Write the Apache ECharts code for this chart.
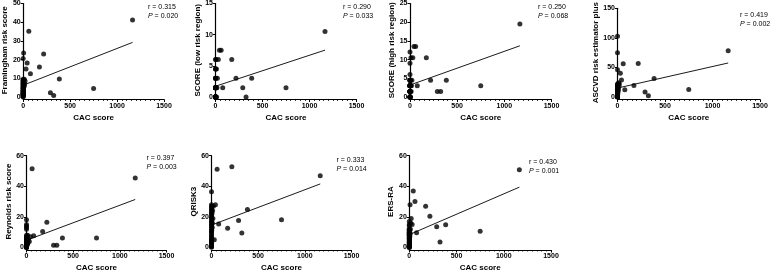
<!DOCTYPE html>
<html>
<head>
<meta charset="utf-8">
<script src="https://cdn.jsdelivr.net/npm/echarts@6/dist/echarts.min.js"></script>
<style>
  html, body { margin: 0; padding: 0; background: #fff; }
  #chart { width: 778px; height: 273px; }
</style>
</head>
<body>
<div id="chart"></div>
<script>
// CAC score per patient (same x for every panel)
const cac = [1165, 750, 385, 325, 290, 218, 173, 77, 60, 42, 30,
  20, 15, 12, 10, 8, 5, 3, 2,
  0, 0, 0, 0, 0, 0, 0, 0, 0, 0, 0, 0, 0, 0, 0, 0, 0, 0,
  0, 0, 0, 0, 0, 0, 0, 0, 0, 0, 0, 0, 0, 0, 0, 0, 0]

const framingham = [41.2, 4.6, 9.6, 0.8, 2.3, 23, 16, 12.5, 35.2, 18.2, 15,
  8.5, 7, 9.5, 6, 5.5, 23.5, 4, 3,
  20.6, 9, 8, 7.5, 7, 6.5, 6, 5.5, 5, 4.8, 4.5, 4, 3.8, 3.5, 3.2, 3, 2.8, 2.5,
  2.2, 2, 1.8, 1.6, 1.4, 1.2, 1, 9.5, 8.8, 8, 7.2, 6, 5, 1.5, 0.8, 0.3, 0]

const scoreLow = [10.5, 1.5, 3, 0, 1.5, 3, 6, 1.5, 7.5, 7.5, 6,
  3, 1.5, 0, 4.5, 1.5, 6, 0, 1.5,
  6, 4.5, 4.5, 3, 3, 3, 1.5, 1.5, 1.5, 1.5, 1.5, 1.5, 1.5, 1.5, 1.5, 1.5, 1.5, 1.5,
  1.5, 1.5, 0, 0, 0, 0, 0, 0, 0, 0, 0, 0, 0, 0, 0, 0, 0]

const scoreHigh = [19.5, 3, 4.5, 1.5, 1.5, 4.5, 10.5, 3, 13.5, 13.5, 10.5,
  4.5, 3, 1.5, 10.5, 3, 4.5, 0, 3,
  12, 9, 6, 4.5, 4.5, 4.5, 4.5, 3, 3, 3, 3, 3, 3, 3, 3, 3, 3, 1.5,
  1.5, 1.5, 1.5, 1.5, 1.5, 1.5, 1.5, 1.5, 1.5, 0, 0, 0, 0, 0, 0, 0, 0]

const ascvd = [78.4, 12.7, 31.3, 2, 8.5, 56.7, 19.6, 12.2, 56.2, 28.6, 40.3,
  22, 18, 24, 14, 10, 22, 6, 12,
  103, 75, 46, 22, 20, 20, 18, 16, 15, 14, 13, 12, 11, 10, 9, 8, 7.5, 7,
  6.5, 6, 5.5, 5, 4.5, 4, 3.5, 3, 2.5, 2, 1.5, 1, 0.8, 0.6, 0.4, 0.2, 0]

const reynolds = [45.4, 6.2, 6.2, 1.5, 1.5, 16.5, 10.5, 7.7, 51.4, 7, 4,
  5, 3, 8, 2, 6, 4, 1.5, 7,
  18.2, 15, 14, 13, 12, 8, 7, 6, 5.5, 5, 4.5, 4, 3.5, 3, 3, 2.5, 2.5, 2,
  2, 1.8, 1.5, 1.5, 1.2, 1, 1, 0.8, 0.8, 0.6, 0.5, 0.5, 0.4, 0.3, 0.2, 0.1, 0]

const qrisk3 = [46.9, 18.2, 24.9, 9.4, 17.6, 52.7, 12.6, 15.4, 51.2, 28, 5,
  27, 19, 24, 16, 13, 22, 5, 11,
  36.5, 28, 27, 26, 25, 24, 23, 22, 21, 20, 19, 18, 17, 16, 15, 14, 13, 12,
  11, 10, 9, 8, 7, 6, 5, 4.5, 4, 3.5, 3, 2.5, 2, 1.5, 1, 0.5, 0.2]

const ersRa = [50.8, 10.7, 14.8, 3.6, 13.5, 20.4, 27, 9.6, 30, 36.9, 15,
  19, 16, 12, 9, 28, 7, 5, 3,
  17, 15, 14, 12, 11, 10, 9, 8.5, 12, 11, 10, 9, 8.5, 8, 7.5, 7, 6.5, 6,
  5.5, 5, 4.5, 4, 3.5, 3, 2.5, 2, 1.8, 1.5, 1.2, 1, 0.8, 0.6, 0.4, 0.2, 0]

const yNames = ['Framingham risk score', 'SCORE (low risk region)', 'SCORE (high risk region)',
  'ASCVD risk estimator plus', 'Reynolds risk score', 'QRISK3', 'ERS-RA']
const yMax = [50, 15, 25, 150, 60, 60, 60]
const yStep = [10, 5, 5, 50, 20, 20, 20]
const rValues = ['0.315', '0.290', '0.250', '0.419', '0.397', '0.333', '0.430']
const pValues = ['0.020', '0.033', '0.068', '0.002', '0.003', '0.014', '0.001']
const xTicks = { min: 0, max: 1500, step: 500 }

const scores = [framingham, scoreLow, scoreHigh, ascvd, reynolds, qrisk3, ersRa]

// grid boxes [left, top, width, height], name gap, stats text position
const layout = [
  { grid: [23, 3, 141, 94], gap: 11, txt: [148, 3] },
  { grid: [215.5, 3, 141, 94], gap: 12, txt: [343, 3] },
  { grid: [410, 3, 141.5, 94], gap: 12, txt: [538, 3] },
  { grid: [617.5, 3, 142.5, 94], gap: 17, txt: [740, 11] },
  { grid: [26.5, 155.7, 140, 93.3], gap: 11, txt: [146.5, 153.5] },
  { grid: [211.5, 155.7, 140, 93.3], gap: 11, txt: [336.5, 156] },
  { grid: [409.3, 155.7, 141.7, 93.3], gap: 11, txt: [529, 157.5] }
]

const FONT = 'Liberation Sans, Arial, sans-serif'

const fitLine = (xs, ys) => {
  const n = xs.length
  const mx = xs.reduce((a, b) => a + b, 0) / n
  const my = ys.reduce((a, b) => a + b, 0) / n
  let sxy = 0, sxx = 0
  for (let i = 0; i < n; i++) {
    sxy += (xs[i] - mx) * (ys[i] - my)
    sxx += (xs[i] - mx) * (xs[i] - mx)
  }
  const b = sxy / sxx
  const a = my - b * mx
  const x0 = Math.min(...xs)
  const x1 = Math.max(...xs)
  return [[x0, a + b * x0], [x1, a + b * x1]]
}

const chart = echarts.init(document.getElementById('chart'))

const grid = [], xAxis = [], yAxis = [], series = [], graphic = []

layout.forEach((l, i) => {
  const [left, top, width, height] = l.grid
  grid.push({ left, top, width, height, containLabel: false })
  xAxis.push({
    gridIndex: i,
    type: 'value',
    min: xTicks.min,
    max: xTicks.max,
    interval: xTicks.step,
    offset: 2.5,
    name: 'CAC score',
    nameLocation: 'middle',
    nameGap: 14,
    nameTextStyle: { color: '#000', fontFamily: FONT, fontWeight: 'bold', fontSize: 8 },
    axisLine: { show: true, onZero: false, lineStyle: { color: '#000', width: 1.2 } },
    axisTick: { show: true, length: 2.5, lineStyle: { color: '#000', width: 1 } },
    minorTick: { show: true, splitNumber: 10, length: 1.5, lineStyle: { color: '#000', width: 0.8 } },
    axisLabel: { color: '#000', fontFamily: FONT, fontWeight: 'bold', fontSize: 7, margin: 3, formatter: v => String(v) },
    splitLine: { show: false }
  })
  yAxis.push({
    gridIndex: i,
    type: 'value',
    min: 0,
    max: yMax[i],
    interval: yStep[i],
    name: yNames[i],
    nameLocation: 'middle',
    nameGap: l.gap,
    nameRotate: 90,
    nameTextStyle: { color: '#000', fontFamily: FONT, fontWeight: 'bold', fontSize: 8 },
    axisLine: { show: true, onZero: false, lineStyle: { color: '#000', width: 1.2 } },
    axisTick: { show: true, length: 2.5, lineStyle: { color: '#000', width: 1 } },
    axisLabel: { color: '#000', fontFamily: FONT, fontWeight: 'bold', fontSize: 7, margin: 2.5, formatter: v => String(v) },
    splitLine: { show: false }
  })
  series.push({
    type: 'scatter',
    xAxisIndex: i,
    yAxisIndex: i,
    symbolSize: 5,
    clip: false,
    itemStyle: { color: '#000' },
    data: cac.map((x, k) => [x, scores[i][k]])
  })
  series.push({
    type: 'line',
    xAxisIndex: i,
    yAxisIndex: i,
    symbol: 'none',
    silent: true,
    lineStyle: { color: '#000', width: 0.9 },
    data: fitLine(cac, scores[i])
  })
  graphic.push({
    type: 'text',
    left: l.txt[0],
    top: l.txt[1],
    style: {
      text: 'r = ' + rValues[i] + '\n{i|P} = ' + pValues[i],
      fill: '#000',
      fontFamily: FONT,
      fontSize: 7,
      lineHeight: 8.8,
      rich: { i: { fontStyle: 'italic', fontFamily: FONT, fontSize: 7, fill: '#000' } }
    }
  })
})

chart.setOption({
  animation: false,
  grid,
  xAxis,
  yAxis,
  series,
  graphic
})
</script>
</body>
</html>
